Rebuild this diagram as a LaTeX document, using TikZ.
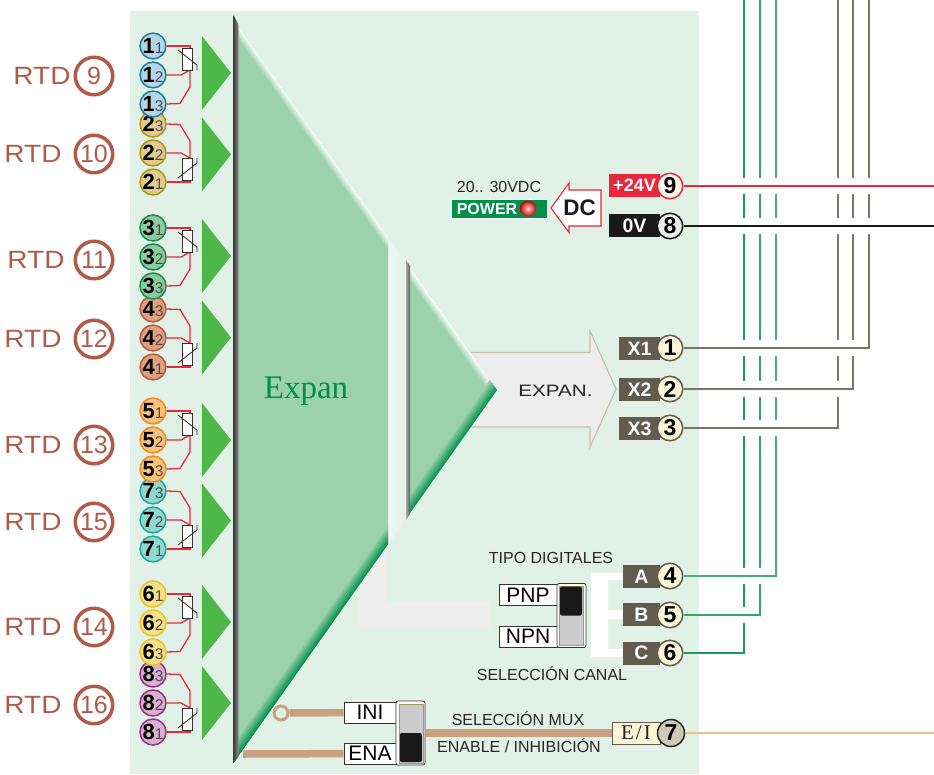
\documentclass[tikz,border=0pt]{standalone}
\usepackage{fontspec}
\setmainfont{Liberation Sans}
\newfontfamily\serifface{Liberation Serif}
\newfontfamily\wideface[FakeStretch=1.12]{Liberation Sans}
\newfontfamily\expanface[FakeStretch=1.25]{Liberation Sans}
\newcommand{\fsz}[1]{\fontsize{#1}{#1}\selectfont}
\newcommand{\termtext}[2]{{\fsz{22}\bfseries #1}{\fsz{15.5}\color{black!70}#2}}
\definecolor{panelcol}{HTML}{E2F1E7}
\definecolor{trigreen}{HTML}{9BD2AC}
\definecolor{dkgreen}{HTML}{008F4C}
\definecolor{arrowgreen}{HTML}{4DB848}
\definecolor{rtdcol}{HTML}{B05A48}
\definecolor{wirered}{HTML}{E8283C}
\definecolor{browncol}{HTML}{635B50}
\definecolor{creamcol}{HTML}{FBF5D8}
\definecolor{tanbarcol}{HTML}{C9A080}
\definecolor{graycol}{HTML}{EDEDED}
\definecolor{swtan}{HTML}{A89A5A}
\definecolor{orangewire}{HTML}{F2C070}
\definecolor{blueF}{HTML}{B5D5E6}
\definecolor{blueD}{HTML}{1A7F9F}
\definecolor{tanF}{HTML}{E0CC90}
\definecolor{tanD}{HTML}{B0960F}
\definecolor{greenF}{HTML}{8CCBA0}
\definecolor{greenD}{HTML}{1A8A50}
\definecolor{brickF}{HTML}{E0A080}
\definecolor{brickD}{HTML}{B85A3C}
\definecolor{orangeF}{HTML}{FBC27A}
\definecolor{orangeD}{HTML}{F08A20}
\definecolor{tealF}{HTML}{90D8CF}
\definecolor{tealD}{HTML}{1AA89A}
\definecolor{yellowF}{HTML}{F5E08C}
\definecolor{yellowD}{HTML}{EBC31A}
\definecolor{purpleF}{HTML}{D9B0D0}
\definecolor{purpleD}{HTML}{9A2F8A}
\tikzset{
  termc/.style 2 args={circle,draw=#2,fill=#1,line width=1.5,minimum size=25,inner sep=0},
  resistor/.style={rectangle,draw=black!80,fill=white,line width=1,minimum width=9.5,minimum height=22,inner sep=0},
  rtdwire/.style={wirered,line width=1.3},
  rtdnum/.style={circle,draw=rtdcol,line width=3.5,minimum size=37.5,inner sep=0,text=rtdcol,font=\fsz{25}},
  rtdtxt/.style={text=rtdcol,inner sep=0,font=\wideface\fsz{25}},
  portc/.style 2 args={circle,draw=#2,fill=#1,line width=1.5,minimum size=25.5,inner sep=0,font=\fsz{23}\bfseries},
  portl/.style 2 args={rectangle,fill=#1,minimum width=#2,minimum height=23,inner sep=0,text=white,font=\fsz{19.5}\bfseries},
  boxl/.style={rectangle,draw=black!80,fill=white,line width=.8,minimum width=58,minimum height=21,inner sep=0,font=\fsz{21}},
  swbody/.style={rectangle,rounded corners=2,draw=black!80,fill=white,line width=.8,minimum width=29,minimum height=64,inner sep=0},
  swin/.style={rectangle,draw=swtan,fill=black!20,line width=.8,minimum width=24,minimum height=59,inner sep=0},
  swknob/.style={rectangle,rounded corners=2,fill=black!90,minimum width=22,minimum height=29,inner sep=0},
  captxt/.style={inner sep=0,text=black!85,font=\fsz{16}},
  tanbar/.style={tanbarcol,line width=7.5},
  halo/.style={white,line width=16},
  wireA/.style={color=dkgreen!90!white,line width=1.3},
  wireB/.style={color=dkgreen!80!white,line width=1.3},
  wireC/.style={color=dkgreen!72!white,line width=1.3},
  wireX/.style={color=browncol!85!white,line width=1.4},
  wireP/.style={wirered,line width=1.3},
  wireN/.style={black!90,line width=1.2},
  wireE/.style={orangewire,line width=1.2}
}
\begin{document}
\begin{tikzpicture}[x=1pt,y=-1pt]
  \useasboundingbox (0,0) rectangle (934,774);
  \fill[panelcol] (130,11) rectangle (699,774);
  \fill[graycol] (386,547) -- (386,602) -- (490,602) -- (490,628) -- (359,628) -- (359,585) -- cycle;
  \draw[color=black!30!yellow!25!gray!60,fill=graycol,line width=1.2]
    (470,352.5) -- (590,352.5) -- (590,331) -- (616,389) -- (590,447) -- (590,427) -- (470,427);
  \fill[white] (591,573) -- (623,573) -- (623,580) -- (608,580) -- (608,610) -- (623,610) -- (623,619)
    -- (608,619) -- (608,649) -- (623,649) -- (623,657) -- (591,657) -- cycle;
  \shade[left color=white!45!panelcol,right color=panelcol] (388,238) -- (406,262) -- (406,520) -- (388,544) -- cycle;

  \begin{scope}
    \clip (238,26) -- (388,237) -- (388,544.3) -- (238,756.6) -- cycle
          (410,267) -- (497,390) -- (410,513) -- cycle;
    \fill[trigreen] (230,0) rectangle (500,770);
    \foreach \i in {0,...,8} {
      \pgfmathtruncatemacro{\p}{100*\i/8}
      \draw[trigreen!\p!white,line width=1.4,shift={(-.816*\i,.579*\i)}] (209,-15) -- (526,431);
    }
    \foreach \i in {0,...,11} {
      \pgfmathtruncatemacro{\p}{100*\i/11}
      \draw[trigreen!\p!dkgreen,line width=1.4,shift={(-.816*\i,-.579*\i)}] (526,349) -- (204,804);
    }
  \end{scope}
  \shade[left color=black!75,right color=black!45] (233.5,15) -- (238.5,25) -- (238.5,757) -- (233.5,763) -- cycle;
  \shade[left color=black!35,right color=browncol] (406,260) -- (410,266) -- (410,514) -- (406,520) -- cycle;

  \node[inner sep=0,text=dkgreen,font=\serifface\fsz{33}] (expan) at (306,391) {Expan};

  \foreach \c in {73,154.5,256,337.5,440,520.5,622,703}
    \fill[arrowgreen] (202,\c-37) -- (231,\c) -- (202,\c+37) -- cycle;

  \foreach \g/\y/\s/\fc/\dc in {2/153/-1/tanF/tanD,1/75/1/blueF/blueD,
      4/338/-1/brickF/brickD,3/257/1/greenF/greenD,
      7/520/-1/tealF/tealD,5/440/1/orangeF/orangeD,
      8/703/-1/purpleF/purpleD,6/623/1/yellowF/yellowD} {
    \begin{scope}[shift={(0,\y)},yscale=\s]
      \node[termc={\fc}{\dc}] (t\g1) at (153,-29) {\termtext{\g}{1}};
      \node[termc={\fc}{\dc}] (t\g2) at (153,0) {\termtext{\g}{2}};
      \node[termc={\fc}{\dc}] (t\g3) at (153,29) {\termtext{\g}{3}};
      \coordinate (ra\g) at (190,-27);
      \coordinate (rb\g) at (190,-5);
      \draw[rtdwire] (t\g1.east) -| (ra\g);
      \draw[rtdwire] (t\g2.east) -- (181,0) -- (rb\g);
      \draw[rtdwire] (t\g3.east) -- (180,28.5) -- (190,12) -- (rb\g);
      \node[resistor] (r\g) at (187.5,-16) {};
      \draw[black!85,line width=.8] (178,-25) -- (197,-10) -- (197,-5);
    \end{scope}
  }

  \foreach \n/\ty/\tx in {9/76/42,10/154/33,11/260/36,12/339/33,13/445/33,15/522/33,14/627/33,16/705/33} {
    \node[rtdnum] (c\n) at (94,\ty) {\n};
    \node[rtdtxt] (l\n) at (\tx,\ty) {RTD};
  }

  \node[inner sep=0,captxt] (vdc) at (499,187) {20.. 30VDC};
  \node[rectangle,draw=white!60!panelcol,fill=dkgreen,line width=.6,minimum width=96,minimum height=19,inner sep=0] (pw) at (499,208.5) {};
  \node[inner sep=0,text=white,font=\fsz{16}\bfseries] (pwtxt) at (487,208.5) {POWER};
  \node[circle,minimum size=16,inner sep=0,inner color=red!15!white,outer color=red!80!black] (led) at (528,208.5) {};
  \draw[wirered,fill=white,line width=1.1] (551,208) -- (569,183) -- (569,190) -- (601,190) -- (601,226) -- (569,226) -- (569,232.5) -- cycle;
  \node[inner sep=0,font=\fsz{22.5}\bfseries,text=black!90] (dc) at (579.5,208) {DC};

  \node[portl={wirered}{51},font=\fsz{18}\bfseries] (lP) at (634.5,185.5) {+24V};
  \node[portl={black!90}{51}] (lN) at (634.5,225.5) {0V};
  \node[portl={browncol}{41}] (lX1) at (639.5,348.5) {X1};
  \node[portl={browncol}{41}] (lX2) at (639.5,389.5) {X2};
  \node[portl={browncol}{41}] (lX3) at (639.5,428.5) {X3};
  \node[portl={browncol}{37}] (lA) at (641.5,576.5) {A};
  \node[portl={browncol}{37}] (lB) at (641.5,614.5) {B};
  \node[portl={browncol}{37}] (lC) at (641.5,653) {C};
  \node[portc={orange!8!white}{wirered}] (nP) at (670,186) {9};
  \node[portc={black!8}{black!90}] (nN) at (670,226) {8};
  \node[portc={creamcol}{browncol}] (nX1) at (670,348) {1};
  \node[portc={creamcol}{browncol}] (nX2) at (670,389) {2};
  \node[portc={creamcol}{browncol}] (nX3) at (670,428) {3};
  \node[portc={creamcol}{browncol}] (nA) at (670,576) {4};
  \node[portc={creamcol}{browncol}] (nB) at (670,615) {5};
  \node[portc={creamcol}{browncol}] (nC) at (670,653) {6};

  \coordinate (edgeL) at (700,0);
  \coordinate (edgeR) at (934,0);
  \coordinate (wC) at (744,0);
  \coordinate (wB) at (760,0);
  \coordinate (wA) at (776,0);
  \coordinate (wX3) at (838,0);
  \coordinate (wX2) at (853,0);
  \coordinate (wX1) at (869,0);
  \begin{scope}
    \foreach \n/\w/\st in {nC/wC/wireA,nB/wB/wireB,nA/wA/wireC,nX3/wX3/wireX,nX2/wX2/wireX,nX1/wX1/wireX} {
      \draw[halo] (\n -| edgeL) -- (\n -| \w);
      \draw[\st] (\n.east) -| (\w);
    }
    \foreach \n/\st in {nN/wireN,nP/wireP} {
      \draw[halo] (\n -| edgeL) -- (\n -| edgeR);
      \draw[\st] (\n.east) -- (\n -| edgeR);
    }
  \end{scope}

  \node[captxt] (tipo) at (551,558) {TIPO DIGITALES};
  \node[captxt] (canal) at (552,674) {SELECCIÓN CANAL};
  \node[boxl] (pnp) at (528,595) {PNP};
  \node[boxl] (npn) at (528,636.5) {NPN};
  \node[swbody] (sw1) at (571.5,615.5) {};
  \node[swin] (sw1in) at (571.8,615.5) {};
  \node[swknob] (sw1k) at (571,601) {};

  \node[portl={creamcol}{48},draw=browncol,line width=.8,minimum height=22,text=black!85,font=\serifface\fsz{21}\addfontfeature{LetterSpace=10}] (lEI) at (636,733) {E/I};
  \coordinate (tanEnd) at (243,754);
  \node[circle,draw=tanbarcol,fill=panelcol,line width=3,minimum size=14,inner sep=0] (iniDot) at (281,713) {};
  \node[boxl,minimum width=52] (ini) at (370,712.5) {INI};
  \node[boxl,minimum width=52] (ena) at (370,753.5) {ENA};
  \node[swbody] (sw2) at (410.5,733) {};
  \node[swin] (sw2in) at (411,733.5) {};
  \node[swknob] (sw2k) at (410.8,747.5) {};
  \draw[tanbar] (iniDot) -- (ini);
  \draw[tanbar] (tanEnd) -- (ena);
  \draw[tanbar] (sw2) -- (lEI);
  \node[captxt] (mux) at (518,719) {SELECCIÓN MUX};
  \node[captxt] (enable) at (519,746) {ENABLE / INHIBICIÓN};
  \node[portc={black!10!creamcol!80!gray}{black!85},minimum size=27] (nEI) at (671,733) {7};
  \draw[wireE] (nEI.east) -- (nEI -| edgeR);

  \node[inner sep=0,text=black!85,font=\expanface\fsz{16.5}] (expantxt) at (555.5,390.5) {EXPAN.};
\end{tikzpicture}
\end{document}
